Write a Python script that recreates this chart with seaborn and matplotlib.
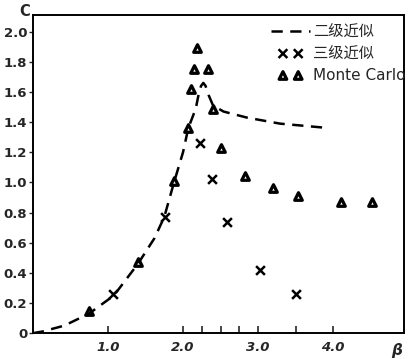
import numpy as np
import pandas as pd
import matplotlib
matplotlib.use("Agg")
import matplotlib.pyplot as plt
from matplotlib.collections import PathCollection
from matplotlib.legend_handler import HandlerPathCollection
import seaborn as sns

# second-order approximation (dashed curve)
beta_2 = [0, 0.12, 0.42, 0.75, 1.08, 1.4, 1.62, 1.75, 1.88, 2.0, 2.07, 2.17, 2.21, 2.24, 2.27, 2.3, 2.34, 2.4, 2.54, 2.85, 3.29, 3.95]
c_2 = [0, 0.01, 0.05, 0.13, 0.25, 0.46, 0.63, 0.77, 1.0, 1.2, 1.36, 1.49, 1.59, 1.64, 1.66, 1.64, 1.58, 1.51, 1.47, 1.43, 1.39, 1.36]

# third-order approximation (crosses)
beta_3 = [1.07, 1.76, 2.22, 2.39, 2.59, 3.02, 3.5]
c_3 = [0.26, 0.77, 1.26, 1.02, 0.74, 0.42, 0.26]

# Monte Carlo (triangles)
beta_mc = [0.75, 1.4, 1.88, 2.06, 2.11, 2.14, 2.19, 2.33, 2.4, 2.5, 2.83, 3.2, 3.53, 4.1, 4.52]
c_mc = [0.15, 0.47, 1.01, 1.36, 1.62, 1.75, 1.89, 1.75, 1.49, 1.23, 1.04, 0.96, 0.91, 0.87, 0.87]

sns.set_style("ticks")
plt.rcParams['font.family'] = ['DejaVu Sans', 'Noto Sans CJK SC']

fig = plt.figure(figsize=(4.1, 3.59), dpi=100)
ax = fig.add_axes([0.08, 0.072, 0.905, 0.886])

sns.lineplot(x=beta_2, y=c_2, ax=ax, color='black', linewidth=1.8,
             dashes=False, label='二级近似')
ax.lines[0].set_dashes([4.5, 3])
sns.scatterplot(x=beta_3, y=c_3, ax=ax, marker='x', color='black', s=40,
                linewidth=1.8, label='三级近似')
sns.scatterplot(x=beta_mc, y=c_mc, ax=ax, marker='^', facecolor='white',
                edgecolor='black', s=30, linewidth=2.3, label='Monte Carlo')

ax.set_xlim(0, 4.94)
ax.set_ylim(0, 2.11)
ax.set_xticks([1, 2, 3, 4])
ax.set_xticklabels(['1.0', '2.0', '3.0', '4.0'], fontstyle='italic',
                   fontweight='bold', fontsize=9.5)
ax.set_xticks([2.25, 2.5, 2.75, 3.5], minor=True)
ax.set_yticks(np.arange(0, 2.01, 0.2))
ax.set_yticklabels(['0'] + ['%.1f' % v for v in np.arange(0.2, 2.01, 0.2)],
                   fontweight='bold', fontsize=9.5)
ax.tick_params(axis='x', which='both', direction='in', length=5, width=1.2, pad=6)
ax.tick_params(axis='y', direction='out', length=3, width=1, pad=1)
for sp in ax.spines.values():
    sp.set_linewidth(1.4)
    sp.set_color('black')

fig.text(25 / 410, 1 - 12 / 359, 'C', fontsize=10.5, fontweight='bold',
         ha='center', va='center')
fig.text(397 / 410, 1 - 350 / 359, 'β', fontsize=11, fontweight='bold',
         fontstyle='italic', ha='center', va='center')

leg = ax.legend(loc='upper right',
                bbox_to_anchor=(406 / 410, 1 - 24 / 359),
                bbox_transform=fig.transFigure, frameon=False,
                scatterpoints=2, scatteryoffsets=[0.4],
                handler_map={PathCollection: HandlerPathCollection(marker_pad=0.8)},
                handlelength=2.6, handletextpad=0.2, borderpad=0,
                labelspacing=0.45, fontsize=11, borderaxespad=0)

fig.savefig('out.png', dpi=100)
